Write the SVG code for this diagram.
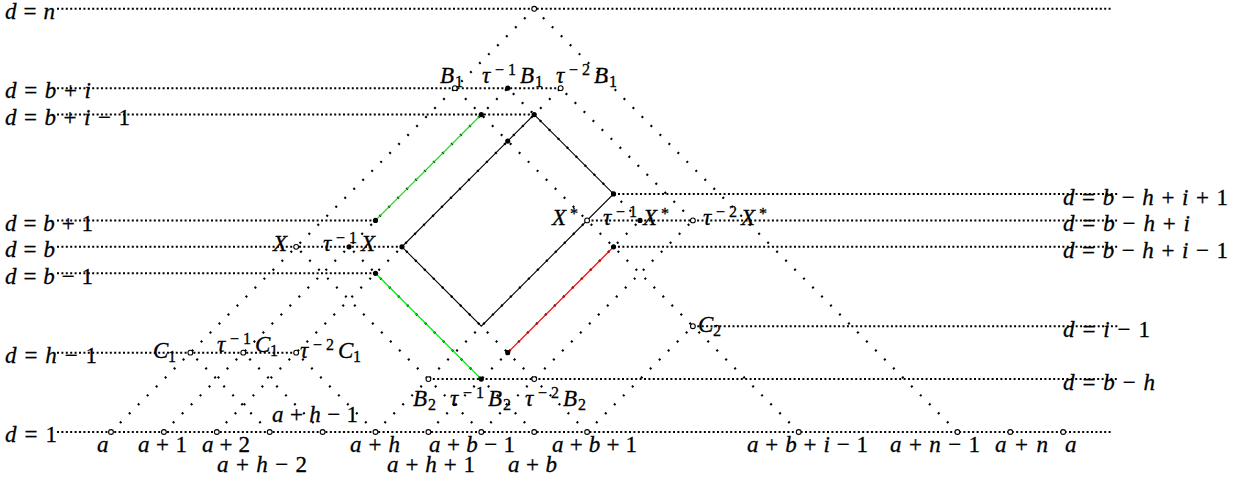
<svg xmlns="http://www.w3.org/2000/svg" width="1236" height="483" viewBox="0 0 1236 483">
<style>
.t{font-family:"Liberation Serif","DejaVu Serif",serif;font-size:23px;fill:#000;stroke:#000;stroke-width:0.3}
.i{font-style:italic}
.s{font-size:16px;font-style:normal}
.h{stroke:#000;stroke-width:2;stroke-dasharray:2 2.4;fill:none}
.dg{stroke:#000;stroke-width:2.2;stroke-dasharray:2 10.7;fill:none}
.sk{stroke:#000;stroke-width:1.1;fill:none}
.gr{stroke:#00e600;stroke-width:1.3;fill:none}
.rd{stroke:#ff0000;stroke-width:1.3;fill:none}
.oc{fill:#fff;stroke:#000;stroke-width:1.1}
.fd{fill:#000}
</style>
<rect width="1236" height="483" fill="#fff"/>
<g id="connectors">
  <line class="h" x1="57" y1="8.8" x2="1113" y2="8.8"/>
  <line class="h" x1="57" y1="88.15" x2="560.65" y2="88.15"/>
  <line class="h" x1="57" y1="114.6" x2="534.2" y2="114.6"/>
  <line class="h" x1="57" y1="220.4" x2="375.5" y2="220.4"/>
  <line class="h" x1="57" y1="246.85" x2="401.95" y2="246.85"/>
  <line class="h" x1="57" y1="273.3" x2="375.5" y2="273.3"/>
  <line class="h" x1="57" y1="352.65" x2="296.15" y2="352.65"/>
  <line class="h" x1="57" y1="432" x2="1113" y2="432"/>
  <line class="h" x1="613.55" y1="193.95" x2="1118" y2="193.95"/>
  <line class="h" x1="587.1" y1="220.4" x2="1118" y2="220.4"/>
  <line class="h" x1="613.55" y1="246.85" x2="1118" y2="246.85"/>
  <line class="h" x1="692.9" y1="326.2" x2="1118" y2="326.2"/>
  <line class="h" x1="428.4" y1="379.1" x2="1118" y2="379.1"/>
  <line class="dg" x1="111" y1="432" x2="534.2" y2="8.8"/>
  <line class="dg" x1="163.9" y1="432" x2="507.75" y2="88.15"/>
  <line class="dg" x1="216.8" y1="432" x2="560.65" y2="88.15"/>
  <line class="dg" x1="375.5" y1="432" x2="587.1" y2="220.4"/>
  <line class="dg" x1="428.4" y1="432" x2="640" y2="220.4"/>
  <line class="dg" x1="481.3" y1="432" x2="692.9" y2="220.4"/>
  <line class="dg" x1="587.1" y1="432" x2="692.9" y2="326.2"/>
  <line class="dg" x1="269.7" y1="432" x2="190.35" y2="352.65"/>
  <line class="dg" x1="322.6" y1="432" x2="243.25" y2="352.65"/>
  <line class="dg" x1="375.5" y1="432" x2="296.15" y2="352.65"/>
  <line class="dg" x1="481.3" y1="432" x2="296.15" y2="246.85"/>
  <line class="dg" x1="534.2" y1="432" x2="349.05" y2="246.85"/>
  <line class="dg" x1="587.1" y1="432" x2="401.95" y2="246.85"/>
  <line class="dg" x1="798.7" y1="432" x2="454.85" y2="88.15"/>
  <line class="dg" x1="640" y1="220.4" x2="507.75" y2="88.15"/>
  <line class="dg" x1="692.9" y1="220.4" x2="560.65" y2="88.15"/>
  <line class="dg" x1="957.4" y1="432" x2="534.2" y2="8.8"/>
  <polygon class="sk" points="534.2,114.6 613.55,193.95 481.3,326.2 401.95,246.85"/>
  <line class="gr" x1="375.5" y1="220.4" x2="481.3" y2="114.6"/>
  <line class="gr" x1="375.5" y1="273.3" x2="481.3" y2="379.1"/>
  <line class="rd" x1="507.75" y1="352.65" x2="613.55" y2="246.85"/>
</g>
<g id="levels" class="t">
  <text x="5" y="18.5" textLength="50" lengthAdjust="spacing"><tspan class="i">d</tspan> = <tspan class="i">n</tspan></text>
  <text x="5" y="98" textLength="86" lengthAdjust="spacing"><tspan class="i">d</tspan> = <tspan class="i">b</tspan> + <tspan class="i">i</tspan></text>
  <text x="5" y="124.5" textLength="125" lengthAdjust="spacing"><tspan class="i">d</tspan> = <tspan class="i">b</tspan> + <tspan class="i">i</tspan> − 1</text>
  <text x="5" y="230.5" textLength="88" lengthAdjust="spacing"><tspan class="i">d</tspan> = <tspan class="i">b</tspan> + 1</text>
  <text x="5" y="257" textLength="50" lengthAdjust="spacing"><tspan class="i">d</tspan> = <tspan class="i">b</tspan></text>
  <text x="5" y="283.5" textLength="88" lengthAdjust="spacing"><tspan class="i">d</tspan> = <tspan class="i">b</tspan> − 1</text>
  <text x="5" y="362.5" textLength="92" lengthAdjust="spacing"><tspan class="i">d</tspan> = <tspan class="i">h</tspan> − 1</text>
  <text x="5" y="442" textLength="52" lengthAdjust="spacing"><tspan class="i">d</tspan> = 1</text>
  <text x="1063" y="204.5" textLength="165" lengthAdjust="spacing"><tspan class="i">d</tspan> = <tspan class="i">b</tspan> − <tspan class="i">h</tspan> + <tspan class="i">i</tspan> + 1</text>
  <text x="1063" y="231" textLength="127" lengthAdjust="spacing"><tspan class="i">d</tspan> = <tspan class="i">b</tspan> − <tspan class="i">h</tspan> + <tspan class="i">i</tspan></text>
  <text x="1063" y="257.5" textLength="165" lengthAdjust="spacing"><tspan class="i">d</tspan> = <tspan class="i">b</tspan> − <tspan class="i">h</tspan> + <tspan class="i">i</tspan> − 1</text>
  <text x="1063" y="336.5" textLength="87" lengthAdjust="spacing"><tspan class="i">d</tspan> = <tspan class="i">i</tspan> − 1</text>
  <text x="1063" y="389.5" textLength="92" lengthAdjust="spacing"><tspan class="i">d</tspan> = <tspan class="i">b</tspan> − <tspan class="i">h</tspan></text>
</g>
<g id="bottom-row">
  <g id="n-a"><circle class="oc" cx="111" cy="432" r="2.4"/><text class="t" x="97" y="452"><tspan class="i">a</tspan></text></g>
  <g id="n-a1"><circle class="oc" cx="163.9" cy="432" r="2.4"/><text class="t" x="138" y="452" textLength="49" lengthAdjust="spacing"><tspan class="i">a</tspan> + 1</text></g>
  <g id="n-a2"><circle class="oc" cx="216.8" cy="432" r="2.4"/><text class="t" x="202" y="452" textLength="48" lengthAdjust="spacing"><tspan class="i">a</tspan> + 2</text></g>
  <g id="n-ah2"><circle class="oc" cx="269.7" cy="432" r="2.4"/><text class="t" x="217" y="472" textLength="90" lengthAdjust="spacing"><tspan class="i">a</tspan> + <tspan class="i">h</tspan> − 2</text></g>
  <g id="n-ah1"><circle class="oc" cx="322.6" cy="432" r="2.4"/><text class="t" x="272" y="422" textLength="86" lengthAdjust="spacing"><tspan class="i">a</tspan> + <tspan class="i">h</tspan> − 1</text></g>
  <g id="n-ah"><circle class="oc" cx="375.5" cy="432" r="2.4"/><text class="t" x="350" y="452" textLength="50" lengthAdjust="spacing"><tspan class="i">a</tspan> + <tspan class="i">h</tspan></text></g>
  <g id="n-ahp1"><circle class="oc" cx="428.4" cy="432" r="2.4"/><text class="t" x="387" y="472" textLength="88" lengthAdjust="spacing"><tspan class="i">a</tspan> + <tspan class="i">h</tspan> + 1</text></g>
  <g id="n-ab1"><circle class="oc" cx="481.3" cy="432" r="2.4"/><text class="t" x="429" y="452" textLength="86" lengthAdjust="spacing"><tspan class="i">a</tspan> + <tspan class="i">b</tspan> − 1</text></g>
  <g id="n-ab"><circle class="oc" cx="534.2" cy="432" r="2.4"/><text class="t" x="508" y="472" textLength="49" lengthAdjust="spacing"><tspan class="i">a</tspan> + <tspan class="i">b</tspan></text></g>
  <g id="n-abp1"><circle class="oc" cx="587.1" cy="432" r="2.4"/><text class="t" x="552" y="452" textLength="85" lengthAdjust="spacing"><tspan class="i">a</tspan> + <tspan class="i">b</tspan> + 1</text></g>
  <g id="n-abi1"><circle class="oc" cx="798.7" cy="432" r="2.4"/><text class="t" x="747" y="452" textLength="121" lengthAdjust="spacing"><tspan class="i">a</tspan> + <tspan class="i">b</tspan> + <tspan class="i">i</tspan> − 1</text></g>
  <g id="n-an1"><circle class="oc" cx="957.4" cy="432" r="2.4"/><text class="t" x="890" y="452" textLength="90" lengthAdjust="spacing"><tspan class="i">a</tspan> + <tspan class="i">n</tspan> − 1</text></g>
  <g id="n-an"><circle class="oc" cx="1010.3" cy="432" r="2.4"/><text class="t" x="995" y="452" textLength="53" lengthAdjust="spacing"><tspan class="i">a</tspan> + <tspan class="i">n</tspan></text></g>
  <g id="n-a-end"><circle class="oc" cx="1063.2" cy="432" r="2.4"/><text class="t" x="1065" y="452"><tspan class="i">a</tspan></text></g>
</g>
<g id="n-apex"><circle class="oc" cx="534.2" cy="8.8" r="2.4"/></g>
<g id="n-B1"><circle class="oc" cx="454.85" cy="88.15" r="2.4"/><text class="t"><tspan class="i" x="440" y="83">B</tspan><tspan class="s" x="455" y="87">1</tspan></text></g>
<g id="n-tB1"><circle class="fd" cx="507.75" cy="88.15" r="2.6"/><text class="t"><tspan class="i" x="482" y="83">τ</tspan><tspan class="s" x="495" y="75">−</tspan><tspan class="s" x="508" y="75">1</tspan><tspan class="i" x="520" y="83">B</tspan><tspan class="s" x="535" y="87">1</tspan></text></g>
<g id="n-t2B1"><circle class="oc" cx="560.65" cy="88.15" r="2.4"/><text class="t"><tspan class="i" x="556" y="83">τ</tspan><tspan class="s" x="569" y="75">−</tspan><tspan class="s" x="582" y="75">2</tspan><tspan class="i" x="594" y="83">B</tspan><tspan class="s" x="609" y="87">1</tspan></text></g>
<g id="n-g1top"><circle class="fd" cx="481.3" cy="114.6" r="2.6"/></g>
<g id="n-rtop"><circle class="fd" cx="534.2" cy="114.6" r="2.6"/></g>
<g id="n-mid"><circle class="fd" cx="507.75" cy="141.05" r="2.6"/></g>
<g id="n-rright"><circle class="fd" cx="613.55" cy="193.95" r="2.6"/></g>
<g id="n-rleft"><circle class="fd" cx="401.95" cy="246.85" r="2.6"/></g>
<g id="n-g1bot"><circle class="fd" cx="375.5" cy="220.4" r="2.6"/></g>
<g id="n-g2top"><circle class="fd" cx="375.5" cy="273.3" r="2.6"/></g>
<g id="n-redtop"><circle class="fd" cx="613.55" cy="246.85" r="2.6"/></g>
<g id="n-redbot"><circle class="fd" cx="507.75" cy="352.65" r="2.6"/></g>
<g id="n-X"><circle class="oc" cx="296.15" cy="246.85" r="2.4"/><text class="t"><tspan class="i" x="273" y="251">X</tspan></text></g>
<g id="n-tX"><circle class="fd" cx="349.05" cy="246.85" r="2.6"/><text class="t"><tspan class="i" x="323" y="251">τ</tspan><tspan class="s" x="336" y="243">−</tspan><tspan class="s" x="349" y="243">1</tspan><tspan class="i" x="361" y="251">X</tspan></text></g>
<g id="n-Xs"><circle class="oc" cx="587.1" cy="220.4" r="2.4"/><text class="t"><tspan class="i" x="552" y="225">X</tspan><tspan class="s" x="570" y="219">*</tspan></text></g>
<g id="n-tXs"><circle class="fd" cx="640" cy="220.4" r="2.6"/><text class="t"><tspan class="i" x="603" y="225">τ</tspan><tspan class="s" x="616" y="217">−</tspan><tspan class="s" x="629" y="217">1</tspan><tspan class="i" x="643" y="225">X</tspan><tspan class="s" x="661" y="219">*</tspan></text></g>
<g id="n-t2Xs"><circle class="oc" cx="692.9" cy="220.4" r="2.4"/><text class="t"><tspan class="i" x="703" y="225">τ</tspan><tspan class="s" x="716" y="217">−</tspan><tspan class="s" x="729" y="217">2</tspan><tspan class="i" x="741" y="225">X</tspan><tspan class="s" x="759" y="219">*</tspan></text></g>
<g id="n-C2"><circle class="oc" cx="692.9" cy="326.2" r="2.4"/><text class="t"><tspan class="i" x="698" y="332">C</tspan><tspan class="s" x="713" y="336">2</tspan></text></g>
<g id="n-C1"><circle class="oc" cx="190.35" cy="352.65" r="2.4"/><text class="t"><tspan class="i" x="153" y="358">C</tspan><tspan class="s" x="168" y="362">1</tspan></text></g>
<g id="n-tC1"><circle class="oc" cx="243.25" cy="352.65" r="2.4"/><text class="t"><tspan class="i" x="217" y="352">τ</tspan><tspan class="s" x="230" y="344">−</tspan><tspan class="s" x="243" y="344">1</tspan><tspan class="i" x="255" y="352">C</tspan><tspan class="s" x="270" y="356">1</tspan></text></g>
<g id="n-t2C1"><circle class="oc" cx="296.15" cy="352.65" r="2.4"/><text class="t"><tspan class="i" x="300" y="358">τ</tspan><tspan class="s" x="313" y="350">−</tspan><tspan class="s" x="326" y="350">2</tspan><tspan class="i" x="338" y="358">C</tspan><tspan class="s" x="353" y="362">1</tspan></text></g>
<g id="n-B2"><circle class="oc" cx="428.4" cy="379.1" r="2.4"/><text class="t"><tspan class="i" x="413" y="406">B</tspan><tspan class="s" x="428" y="410">2</tspan></text></g>
<g id="n-tB2"><circle class="fd" cx="481.3" cy="379.1" r="2.6"/><text class="t"><tspan class="i" x="450" y="406">τ</tspan><tspan class="s" x="463" y="398">−</tspan><tspan class="s" x="476" y="398">1</tspan><tspan class="i" x="488" y="406">B</tspan><tspan class="s" x="503" y="410">2</tspan></text></g>
<g id="n-t2B2"><circle class="oc" cx="534.2" cy="379.1" r="2.4"/><text class="t"><tspan class="i" x="525" y="406">τ</tspan><tspan class="s" x="538" y="398">−</tspan><tspan class="s" x="551" y="398">2</tspan><tspan class="i" x="563" y="406">B</tspan><tspan class="s" x="578" y="410">2</tspan></text></g>
</svg>
